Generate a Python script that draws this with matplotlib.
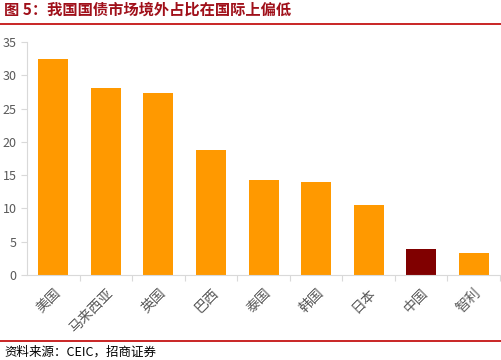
import matplotlib
matplotlib.use("Agg")
import matplotlib.pyplot as plt
from matplotlib.lines import Line2D

plt.rcParams['font.family'] = ['Noto Sans CJK SC', 'DejaVu Sans']

categories = ["美国", "马来西亚", "英国", "巴西", "泰国", "韩国", "日本", "中国", "智利"]
values = [32.5, 28.1, 27.3, 18.8, 14.3, 14.0, 10.5, 3.9, 3.3]
highlight = "中国"
yticks = [0, 5, 10, 15, 20, 25, 30, 35]

fig = plt.figure(figsize=(5.01, 3.6), dpi=100)
ax = fig.add_axes([0.054, 0.236, 0.944, 0.647])

colors = ["#800000" if c == highlight else "#FF9900" for c in categories]
x = list(range(len(categories)))
ax.bar(x, values, width=0.57, color=colors, zorder=2)

ax.set_xlim(-0.5, len(categories) - 0.5)
ax.set_ylim(0, 35)
ax.set_yticks(yticks)
ax.tick_params(axis='y', labelsize=9, colors='#595959', length=4, width=0.8)
ax.tick_params(axis='y', color='#D9D9D9')
ax.set_xticks(x)
ax.set_xticklabels(categories, rotation=45, ha='right', rotation_mode='anchor',
                   fontsize=10, color='#595959')
ax.tick_params(axis='x', length=0, pad=8)
# boundary ticks
ax.set_xticks([i + 0.5 for i in x], minor=True)
ax.tick_params(axis='x', which='minor', length=4, color='#D9D9D9', width=0.8)

for s in ['top', 'right']:
    ax.spines[s].set_visible(False)
for s in ['left', 'bottom']:
    ax.spines[s].set_color('#D9D9D9')
    ax.spines[s].set_linewidth(0.8)

fig.text(0.008, 0.972, "图 5：我国国债市场境外占比在国际上偏低", fontsize=11,
         fontweight='bold', color='#A0101A', va='center', ha='left')
fig.add_artist(Line2D([0, 1], [0.933, 0.933], color='#C00000', linewidth=1.2,
                      transform=fig.transFigure))
fig.add_artist(Line2D([0, 1], [0.053, 0.053], color='#C00000', linewidth=1.2,
                      transform=fig.transFigure))
fig.text(0.008, 0.022, "资料来源：CEIC，招商证券", fontsize=9, color='black',
         va='center', ha='left')

fig.savefig("out.png", dpi=100)
